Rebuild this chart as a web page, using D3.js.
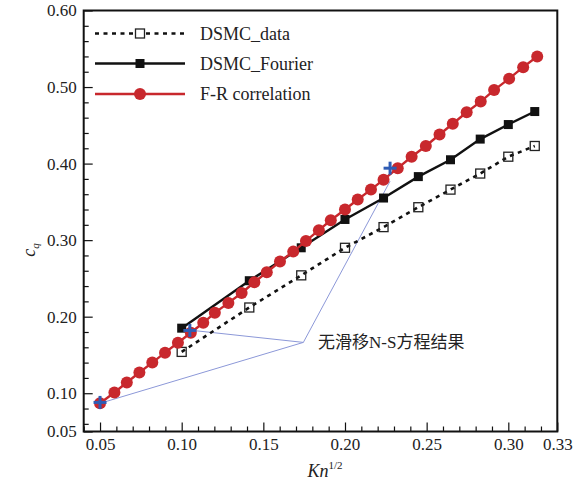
<!DOCTYPE html>
<html>
<head>
<meta charset="utf-8">
<title>cq vs Kn^1/2</title>
<script src="https://d3js.org/d3.v7.min.js"></script>
<style>
  body { margin: 0; background: #fff; }
  svg text { font-family: "Liberation Serif", "Times New Roman", "DejaVu Serif", serif; fill: #222; }
  svg text.cjk { font-family: "Liberation Serif", "Times New Roman", "Noto Sans CJK SC", serif; }
</style>
</head>
<body>
<svg width="585" height="480"></svg>
<script>
// F-R correlation (red line + circles)
var frX = [0.050, 0.0588, 0.0664, 0.0741, 0.0820, 0.0898, 0.0977, 0.1056, 0.1132, 0.1203,
           0.1286, 0.1367, 0.1445, 0.1521, 0.1602, 0.1683, 0.1761, 0.1840, 0.1913, 0.2000,
           0.2078, 0.2159, 0.2236, 0.2323, 0.2408, 0.2495, 0.2579, 0.2660, 0.2745, 0.2831,
           0.2913, 0.3005, 0.3091, 0.3177];
var frY = [0.087, 0.101, 0.114, 0.127, 0.140, 0.153, 0.166, 0.179, 0.192, 0.205,
           0.218, 0.231, 0.245, 0.258, 0.272, 0.285, 0.299, 0.313, 0.326, 0.340,
           0.353, 0.366, 0.379, 0.394, 0.409, 0.423, 0.438, 0.452, 0.467, 0.481,
           0.496, 0.511, 0.526, 0.540];

// DSMC points (Kn = 0.01 ... 0.10)
var dsmcX = [0.1, 0.1414, 0.1732, 0.2, 0.2236, 0.2449, 0.2646, 0.2828, 0.3, 0.3162];
var fourierY = [0.185, 0.247, 0.290, 0.327, 0.355, 0.383, 0.405, 0.432, 0.451, 0.468];
var dataY = [0.154, 0.212, 0.254, 0.290, 0.317, 0.343, 0.366, 0.387, 0.409, 0.423];

// no-slip N-S results (blue crosses) and the callout lines
var nsX = [0.05, 0.105, 0.2276];
var nsY = [0.088, 0.182, 0.394];
var hub = [0.1745, 0.1664];
var calloutEnds = [[0.0512, 0.0876], [0.107, 0.182], [0.2276, 0.377]];
var calloutText = "无滑移N-S方程结果";

// ticks
var xMajor = [0.05, 0.10, 0.15, 0.20, 0.25, 0.30, 0.33];
var xLabels = ["0.05", "0.10", "0.15", "0.20", "0.25", "0.30", "0.33"];
var xMinor = [0.04, 0.06, 0.07, 0.08, 0.09, 0.11, 0.12, 0.13, 0.14, 0.16, 0.17, 0.18, 0.19,
              0.21, 0.22, 0.23, 0.24, 0.26, 0.27, 0.28, 0.29, 0.31, 0.32];
var yMajor = [0.05, 0.10, 0.20, 0.30, 0.40, 0.50, 0.60];
var yLabels = ["0.05", "0.10", "0.20", "0.30", "0.40", "0.50", "0.60"];
var yMinor = [0.06, 0.08, 0.12, 0.14, 0.16, 0.18, 0.22, 0.24, 0.26, 0.28, 0.32, 0.34, 0.36, 0.38,
              0.42, 0.44, 0.46, 0.48, 0.52, 0.54, 0.56, 0.58];

var legendNames = ["DSMC_data", "DSMC_Fourier", "F-R correlation"];

var pLeft = 83.7, pRight = 557.3, pTop = 10.5, pBottom = 431.5;
var red = "#c8282d", blue = "#2f5cb4", callout = "#8c98d8";

var svg = d3.select("svg");
var x = d3.scaleLinear().domain([0.04, 0.33]).range([pLeft, pRight]);
var y = d3.scaleLinear().domain([0.05, 0.60]).range([pBottom, pTop]);

// axes
var gx = svg.append("g").attr("transform", "translate(0," + pBottom + ")");
gx.call(d3.axisBottom(x).tickValues(xMinor).tickSize(-5).tickFormat(""));
gx.append("g").call(d3.axisBottom(x).tickValues(xMajor).tickSize(-9).tickPadding(6)
    .tickFormat(function(d, i) { return xLabels[i]; }));
gx.selectAll(".domain").remove();

var gy = svg.append("g").attr("transform", "translate(" + pLeft + ",0)");
gy.call(d3.axisLeft(y).tickValues(yMinor).tickSize(-5).tickFormat(""));
gy.append("g").call(d3.axisLeft(y).tickValues(yMajor).tickSize(-9).tickPadding(7)
    .tickFormat(function(d, i) { return yLabels[i]; }));
gy.selectAll(".domain").remove();

svg.selectAll(".tick line").attr("stroke", "#111").attr("stroke-width", 1.2);
svg.selectAll(".tick text").attr("font-size", 17).attr("fill", "#333");

svg.append("rect")
  .attr("x", pLeft).attr("y", pTop)
  .attr("width", pRight - pLeft).attr("height", pBottom - pTop)
  .attr("fill", "none").attr("stroke", "#111").attr("stroke-width", 2);

// axis titles
var ct = svg.append("text")
  .attr("transform", "translate(35,250) rotate(-90)")
  .attr("text-anchor", "middle")
  .attr("font-size", 18).attr("font-style", "italic");
ct.append("tspan").text("c");
ct.append("tspan").attr("font-size", 11).attr("dy", 4).text("q");

var kt = svg.append("text")
  .attr("x", 325).attr("y", 477)
  .attr("text-anchor", "middle")
  .attr("font-size", 18).attr("font-style", "italic");
kt.append("tspan").text("Kn");
kt.append("tspan").attr("font-size", 11).attr("font-style", "normal").attr("dy", -8).text("1/2");

// callout lines
svg.selectAll(".callout")
  .data(calloutEnds)
  .enter().append("line")
  .attr("x1", x(hub[0])).attr("y1", y(hub[1]))
  .attr("x2", function(d) { return x(d[0]); })
  .attr("y2", function(d) { return y(d[1]); })
  .attr("stroke", callout).attr("stroke-width", 1);

svg.append("text").attr("class", "cjk")
  .attr("x", 318).attr("y", 348)
  .attr("font-size", 17)
  .text(calloutText);

var line = d3.line().x(function(d) { return x(d[0]); }).y(function(d) { return y(d[1]); });

// DSMC_data
var dataPts = dsmcX.map(function(v, i) { return [v, dataY[i]]; });
svg.append("path").datum(dataPts).attr("d", line)
  .attr("fill", "none").attr("stroke", "#111").attr("stroke-width", 2.6)
  .attr("stroke-dasharray", "4,4.5");
svg.selectAll(".dsq").data(dataPts).enter().append("rect")
  .attr("x", function(d) { return x(d[0]) - 4.5; })
  .attr("y", function(d) { return y(d[1]) - 4.5; })
  .attr("width", 9).attr("height", 9)
  .attr("fill", "none").attr("stroke", "#222").attr("stroke-width", 1.3);

// DSMC_Fourier
var fPts = dsmcX.map(function(v, i) { return [v, fourierY[i]]; });
svg.append("path").datum(fPts).attr("d", line)
  .attr("fill", "none").attr("stroke", "#111").attr("stroke-width", 2.4);
svg.selectAll(".fsq").data(fPts).enter().append("rect")
  .attr("x", function(d) { return x(d[0]) - 4.5; })
  .attr("y", function(d) { return y(d[1]) - 4.5; })
  .attr("width", 9).attr("height", 9)
  .attr("fill", "#111");

// F-R correlation
var frPts = frX.map(function(v, i) { return [v, frY[i]]; });
svg.append("path").datum(frPts).attr("d", line)
  .attr("fill", "none").attr("stroke", red).attr("stroke-width", 2.4);
svg.selectAll(".frc").data(frPts).enter().append("circle")
  .attr("cx", function(d) { return x(d[0]); })
  .attr("cy", function(d) { return y(d[1]); })
  .attr("r", 6).attr("fill", red);

// N-S crosses
var ns = svg.selectAll(".ns").data(nsX).enter().append("g")
  .attr("transform", function(d, i) { return "translate(" + x(d) + "," + y(nsY[i]) + ")"; });
ns.append("line").attr("x1", -6.5).attr("x2", 6.5).attr("stroke", blue).attr("stroke-width", 3);
ns.append("line").attr("y1", -6.5).attr("y2", 6.5).attr("stroke", blue).attr("stroke-width", 3);

// legend
var lg = svg.selectAll(".lg").data(legendNames).enter().append("g")
  .attr("transform", function(d, i) { return "translate(0," + [33.5, 63.5, 94][i] + ")"; });
lg.append("line").attr("x1", 95).attr("x2", 185)
  .attr("stroke", function(d, i) { return i == 2 ? red : "#111"; })
  .attr("stroke-width", 2.4)
  .attr("stroke-dasharray", function(d, i) { return i == 0 ? "4,4.5" : null; });
lg.each(function(d, i) {
  var g = d3.select(this);
  if (i == 0) {
    g.append("rect").attr("x", 135.5).attr("y", -4.5).attr("width", 9).attr("height", 9)
      .attr("fill", "#fff").attr("stroke", "#222").attr("stroke-width", 1.3);
  } else if (i == 1) {
    g.append("rect").attr("x", 135.5).attr("y", -4.5).attr("width", 9).attr("height", 9).attr("fill", "#111");
  } else {
    g.append("circle").attr("cx", 140).attr("r", 6).attr("fill", red);
  }
});
lg.append("text").attr("x", 200).attr("y", 6)
  .attr("font-size", 18).attr("fill", "#333")
  .text(function(d) { return d; });
</script>
</body>
</html>
